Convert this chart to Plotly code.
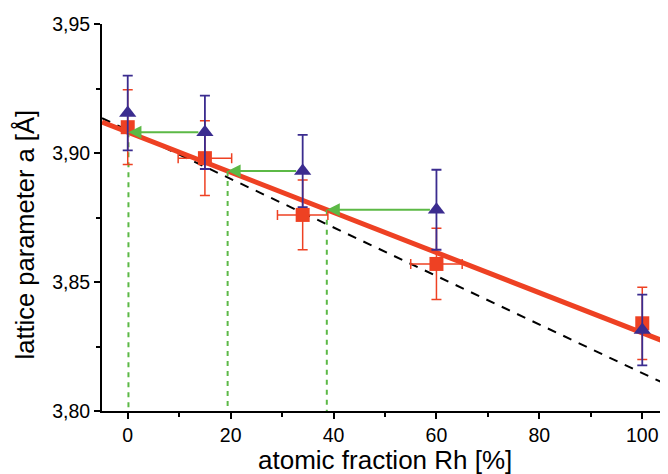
import numpy as np
import plotly.graph_objects as go

# ---- data ----
rh_x = [0, 15, 34, 60, 100]
rh_y = [3.910, 3.898, 3.876, 3.857, 3.834]
rh_yerr = [0.0145, 0.0145, 0.0135, 0.0138, 0.014]
rh_xerr = [0, 5.2, 4.9, 5.0, 0]

nom_x = [0, 15, 34, 60, 100]
nom_y = [3.9155, 3.908, 3.893, 3.878, 3.8314]
nom_yerr = [0.0145, 0.0142, 0.014, 0.0155, 0.0137]

fit_x = [-5, 105]
fit_y = [3.9120, 3.8264]

vegard_x = [-5, 105]
vegard_y = [3.9135, 3.8100]

x_ticks = [0, 20, 40, 60, 80, 100]
y_ticks = [3.80, 3.85, 3.90, 3.95]

RED = "#EE4123"
BLUE = "#3B2C8F"
GREEN = "#5CB946"
FONT = "Liberation Sans, Arial, sans-serif"

fig = go.Figure()

fig.add_trace(go.Scatter(x=vegard_x, y=vegard_y, mode="lines",
                         line=dict(color="black", width=2, dash="9px,8px"),
                         showlegend=False))
fig.add_trace(go.Scatter(x=fit_x, y=fit_y, mode="lines",
                         line=dict(color=RED, width=5), showlegend=False))

# arrows from the nominal points (indices 1..3) to the fit line
arrow_idx = [1, 2, 3]
arrow_y = [nom_y[i] for i in arrow_idx]
arrow_from = [nom_x[i] for i in arrow_idx]
# x where the fit line reaches arrow_y
arrow_tip = list(np.interp(arrow_y, fit_y[::-1], fit_x[::-1]))

for xt, yv in zip(arrow_tip, arrow_y):
    fig.add_trace(go.Scatter(x=[xt, xt], y=[yv, y_ticks[0]], mode="lines",
                             line=dict(color=GREEN, width=2, dash="5px,5px"),
                             showlegend=False))

fig.add_trace(go.Scatter(x=rh_x, y=rh_y, mode="markers",
                         marker=dict(symbol="square", size=14, color=RED),
                         error_y=dict(type="data", array=rh_yerr, color=RED,
                                      thickness=1.5, width=5),
                         error_x=dict(type="data", array=rh_xerr, color=RED,
                                      thickness=1.5, width=5),
                         showlegend=False))
fig.add_trace(go.Scatter(x=nom_x, y=nom_y, mode="markers",
                         marker=dict(symbol="triangle-up", size=15, color=BLUE),
                         error_y=dict(type="data", array=nom_yerr, color=BLUE,
                                      thickness=1.8, width=5),
                         showlegend=False))

for xf, xt, yv in zip(arrow_from, arrow_tip, arrow_y):
    fig.add_annotation(x=xt, y=yv, ax=xf, ay=yv, xref="x", yref="y",
                       axref="x", ayref="y", text="", showarrow=True,
                       arrowhead=2, arrowsize=1.3, arrowwidth=2,
                       arrowcolor=GREEN, startstandoff=5, standoff=0)

# axis titles
fig.add_annotation(text="lattice parameter a [Å]", xref="paper", yref="paper",
                   x=0, y=0.455, xshift=-77.5, textangle=-90, showarrow=False,
                   xanchor="center", yanchor="middle",
                   font=dict(family=FONT, size=25.5, color="black"))
fig.add_annotation(text="atomic fraction Rh [%]", xref="paper", yref="paper",
                   x=0.5, y=0, yshift=-49, showarrow=False,
                   xanchor="center", yanchor="middle",
                   font=dict(family=FONT, size=26, color="black"))

axis_common = dict(showgrid=False, zeroline=False, showline=True,
                   linecolor="black", linewidth=2, ticks="outside",
                   ticklen=6, tickwidth=1.5, tickcolor="black", automargin=False,
                   tickfont=dict(family=FONT, size=19.5, color="black"))

# page body has an 8px margin; the figure is sized to fill the rest
fig.update_layout(
    width=660, height=466,
    margin=dict(l=94, r=0, t=16, b=63),
    plot_bgcolor="white", paper_bgcolor="white",
    separators=",.",
    xaxis=dict(range=[-5, 105], tickvals=x_ticks,
               minor=dict(ticks="outside", ticklen=4, tickwidth=1.5,
                          tickcolor="black", dtick=10, tick0=0),
               **axis_common),
    yaxis=dict(range=[3.80, 3.95], tickvals=y_ticks, tickformat=".2f",
               minor=dict(ticks="outside", ticklen=4, tickwidth=1.5,
                          tickcolor="black", dtick=0.025, tick0=3.8),
               **axis_common),
)

fig.write_html("out.html")
